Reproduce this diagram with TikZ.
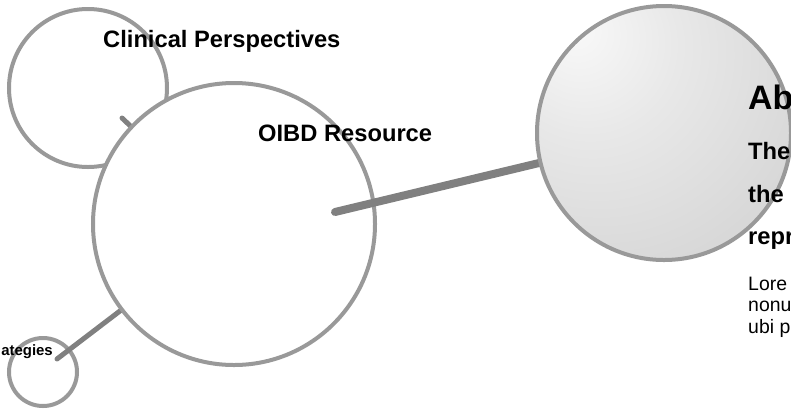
\documentclass[tikz,border=0pt]{standalone}
\usepackage{fontspec}
\setmainfont{Liberation Sans}
\definecolor{ring}{HTML}{999999}
\definecolor{link}{HTML}{808080}
\definecolor{shA}{HTML}{F9F9F9}
\definecolor{shB}{HTML}{E8E8E8}
\definecolor{shC}{HTML}{D8D8D8}
\definecolor{shD}{HTML}{C6C6C6}
\pgfdeclareradialshading{myball}{\pgfpoint{-18bp}{21bp}}{color(0bp)=(shA); color(18bp)=(shB); color(40bp)=(shC); color(72bp)=(shD); color(100bp)=(shD)}
\tikzset{
  bubble/.style={circle, draw=ring, line width=4bp, inner sep=0pt},
  conn/.style={draw=link, line cap=round},
  lab/.style={inner sep=0pt, anchor=base west, font=\bfseries\fontsize{23.8}{28}\selectfont},
  head/.style={inner sep=0pt, anchor=base west, font=\bfseries\fontsize{34}{40}\selectfont},
  body/.style={inner sep=0pt, anchor=base west, font=\fontsize{19.5}{22}\selectfont},
}
\begin{document}
\begin{tikzpicture}[x=1bp,y=-1bp]
\useasboundingbox (0,0) rectangle (791,409);
\clip (0,0) rectangle (791,409);
% outer bubbles
\node[bubble, minimum size=158bp] (clin) at (88,88) {};
\node[bubble, minimum size=68bp] (strat) at (43,372) {};
\coordinate (clinEnd) at (122,118);
\coordinate (stratEnd) at (57,359);
\coordinate (hubEnd) at (335,212);
% central bubble center
\coordinate (hubC) at (234,224);
\draw[conn, line width=5bp] (clinEnd) -- (hubC);
\draw[conn, line width=5bp] (stratEnd) -- (hubC);
\node[bubble, fill=white, minimum size=282bp] (hub) at (hubC) {};
% right bubble
\coordinate (aboutC) at (664,133);
\draw[conn, line width=8bp] (hubEnd) -- (aboutC);
\node[bubble, shade, shading=myball, minimum size=254bp] (about) at (aboutC) {};
% labels
\node[lab] (t1) at (103,47) {Clinical Perspectives};
\node[lab] (t2) at (258,141) {OIBD Resource};
\node[inner sep=0pt, anchor=base east, font=\bfseries\fontsize{15}{18}\selectfont] (t3) at (53,355) {ategies};
\node[head] (h1) at (748,109) {Ab};
\node[lab] (b1) at (748,159) {The};
\node[lab] (b2) at (748,202) {the};
\node[lab] (b3) at (748,244) {repr};
\node[body] (p1) at (748,290) {Lore};
\node[body] (p2) at (748,311) {nonu};
\node[body] (p3) at (748,333) {ubi p};
\end{tikzpicture}
\end{document}
